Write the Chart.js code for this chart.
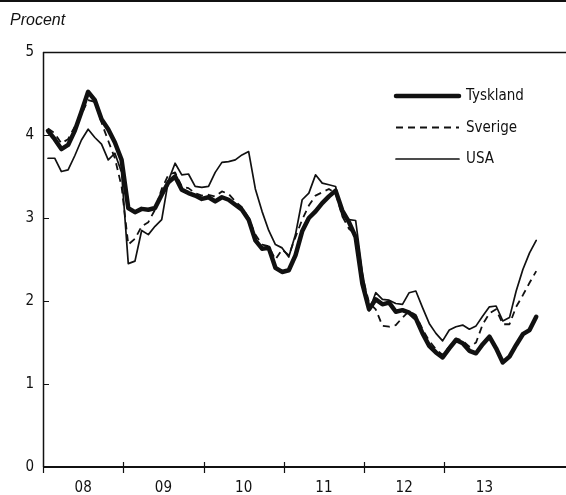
<!DOCTYPE html>
<html>
<head>
<meta charset="utf-8">
<script src="https://cdn.jsdelivr.net/npm/chart.js@4/dist/chart.umd.min.js"></script>
<style>
  html, body { margin: 0; padding: 0; background: #fff; }
  canvas { display: block; }
</style>
</head>
<body>
<canvas id="c" width="566" height="495"></canvas>
<script>
// Ten-year government bond yields, monthly, from January 2008 (per cent)
const yearLabels = ['08', '09', '10', '11', '12', '13'];

const tyskland = [
  4.05, 3.95, 3.83, 3.88, 4.05, 4.28, 4.52, 4.42, 4.19, 4.07,
  3.91, 3.70, 3.12, 3.07, 3.11, 3.10, 3.12, 3.28, 3.43, 3.50,
  3.34, 3.30, 3.27, 3.23, 3.25, 3.20, 3.25, 3.22, 3.16, 3.10,
  2.98, 2.73, 2.63, 2.64, 2.40, 2.35, 2.37, 2.55, 2.84, 3.00,
  3.08, 3.18, 3.26, 3.33, 3.09, 2.95, 2.77, 2.21, 1.90, 2.02,
  1.96, 1.98, 1.87, 1.89, 1.86, 1.79, 1.61, 1.46, 1.38, 1.32,
  1.43, 1.53, 1.49, 1.40, 1.37, 1.48, 1.57, 1.43, 1.26, 1.33,
  1.47, 1.60, 1.65, 1.81
];

const sverige = [
  4.08, 4.02, 3.90, 3.95, 4.10, 4.25, 4.42, 4.40, 4.15, 3.93,
  3.72, 3.38, 2.68, 2.75, 2.90, 2.95, 3.10, 3.35, 3.52, 3.55,
  3.38, 3.36, 3.30, 3.27, 3.28, 3.26, 3.32, 3.29, 3.20, 3.13,
  3.00, 2.80, 2.68, 2.66, 2.50, 2.62, 2.55, 2.77, 2.98, 3.15,
  3.27, 3.31, 3.35, 3.30, 3.02, 2.87, 2.80, 2.30, 1.98, 1.90,
  1.70, 1.69, 1.71, 1.80, 1.88, 1.83, 1.66, 1.52, 1.42, 1.35,
  1.45, 1.55, 1.52, 1.45, 1.50, 1.72, 1.85, 1.90, 1.72, 1.72,
  1.93, 2.07, 2.22, 2.36
];

const usa = [
  3.72, 3.72, 3.56, 3.58, 3.75, 3.94, 4.07, 3.97, 3.89, 3.70,
  3.78, 3.55, 2.45, 2.48, 2.85, 2.80, 2.90, 2.98, 3.45, 3.66,
  3.52, 3.53, 3.38, 3.37, 3.38, 3.55, 3.67, 3.68, 3.70, 3.76,
  3.80, 3.35, 3.08, 2.85, 2.68, 2.64, 2.53, 2.80, 3.22, 3.30,
  3.52, 3.42, 3.40, 3.38, 3.02, 2.98, 2.97, 2.35, 1.88, 2.10,
  2.02, 2.01, 1.97, 1.96, 2.10, 2.12, 1.92, 1.73, 1.61, 1.52,
  1.65, 1.69, 1.71, 1.66, 1.70, 1.82, 1.93, 1.94, 1.76, 1.80,
  2.12, 2.38, 2.58, 2.73
];

// x is measured in months from the start of 2008; each observation sits late in its month
const toPoints = arr => arr.map((v, i) => ({ x: i + 0.75, y: v }));

const INK = '#111';
const NARROW = '"Liberation Sans Narrow", "Arial Narrow", "DejaVu Sans Condensed", sans-serif';

// Frame, axis ticks, heading and legend
const decor = {
  id: 'decor',
  afterDraw(chart) {
    const { ctx, chartArea: a, scales: { x, y } } = chart;
    ctx.save();
    ctx.strokeStyle = INK;
    ctx.fillStyle = INK;
    ctx.lineCap = 'butt';

    // rule across the top of the figure
    ctx.fillRect(0, 0, chart.width, 2);

    // heading
    ctx.font = 'italic 16px "Liberation Sans", Arial, sans-serif';
    ctx.textBaseline = 'alphabetic';
    ctx.textAlign = 'left';
    ctx.fillText('Procent', 10, 25);

    // box: top and left
    ctx.lineWidth = 1.5;
    ctx.beginPath();
    ctx.moveTo(a.left, a.top + 0.5);
    ctx.lineTo(a.right, a.top + 0.5);
    ctx.moveTo(a.left + 0.5, a.top);
    ctx.lineTo(a.left + 0.5, a.bottom);
    ctx.stroke();

    // bottom axis
    ctx.lineWidth = 2;
    ctx.beginPath();
    ctx.moveTo(a.left, a.bottom);
    ctx.lineTo(a.right, a.bottom);
    ctx.stroke();

    // inward y ticks
    ctx.lineWidth = 1.2;
    ctx.beginPath();
    for (let v = 1; v <= 4; v++) {
      const py = Math.round(y.getPixelForValue(v)) + 0.5;
      ctx.moveTo(a.left, py);
      ctx.lineTo(a.left + 6, py);
    }
    // year boundary ticks crossing the x axis
    for (let k = 0; k < yearLabels.length; k++) {
      const px = Math.round(x.getPixelForValue(12 * k)) + 0.5;
      ctx.moveTo(px, k === 0 ? a.bottom : a.bottom - 5);
      ctx.lineTo(px, a.bottom + 6);
    }
    ctx.stroke();

    // legend
    const rows = [96, 127.5, 159];
    ctx.font = '15px ' + NARROW;
    ctx.textBaseline = 'middle';
    chart.data.datasets.forEach((ds, i) => {
      const ly = rows[i];
      ctx.save();
      ctx.lineWidth = ds.borderWidth;
      ctx.setLineDash(ds.borderDash || []);
      ctx.lineCap = ds.borderDash ? 'butt' : 'round';
      ctx.beginPath();
      ctx.moveTo(396, ly);
      ctx.lineTo(459, ly);
      ctx.stroke();
      ctx.restore();
      ctx.fillText(ds.label, 466, ly + 0.5);
    });
    ctx.restore();
  }
};

const lineStyle = { borderColor: INK, pointRadius: 0, tension: 0, borderJoinStyle: 'round', borderCapStyle: 'round', fill: false };

new Chart(document.getElementById('c').getContext('2d'), {
  type: 'line',
  data: {
    datasets: [
      Object.assign({ label: 'Tyskland', data: toPoints(tyskland), borderWidth: 4.5 }, lineStyle),
      Object.assign({ label: 'Sverige', data: toPoints(sverige), borderWidth: 1.8, borderDash: [7, 5], borderCapStyle: 'butt' }, lineStyle, { borderCapStyle: 'butt' }),
      Object.assign({ label: 'USA', data: toPoints(usa), borderWidth: 1.7 }, lineStyle)
    ]
  },
  options: {
    responsive: false,
    animation: false,
    devicePixelRatio: 1,
    layout: { padding: { top: 52, right: 0, left: 0, bottom: 0 } },
    plugins: { legend: { display: false }, tooltip: { enabled: false }, title: { display: false } },
    scales: {
      x: {
        type: 'linear',
        min: 0,
        max: 78.2,
        grid: { display: false, drawTicks: false },
        border: { display: false },
        afterBuildTicks: s => { s.ticks = yearLabels.map((_, k) => ({ value: 12 * k + 6 })); },
        afterFit: s => { s.height = 28; },
        ticks: {
          autoSkip: false,
          maxRotation: 0,
          padding: 12,
          color: INK,
          font: { family: NARROW, size: 15 },
          callback: (v, i) => yearLabels[i]
        }
      },
      y: {
        min: 0,
        max: 5,
        grid: { display: false, drawTicks: false },
        border: { display: false },
        afterFit: s => { s.width = 43; },
        ticks: {
          stepSize: 1,
          padding: 9,
          color: INK,
          font: { family: NARROW, size: 15 }
        }
      }
    }
  },
  plugins: [decor]
});
</script>
</body>
</html>
